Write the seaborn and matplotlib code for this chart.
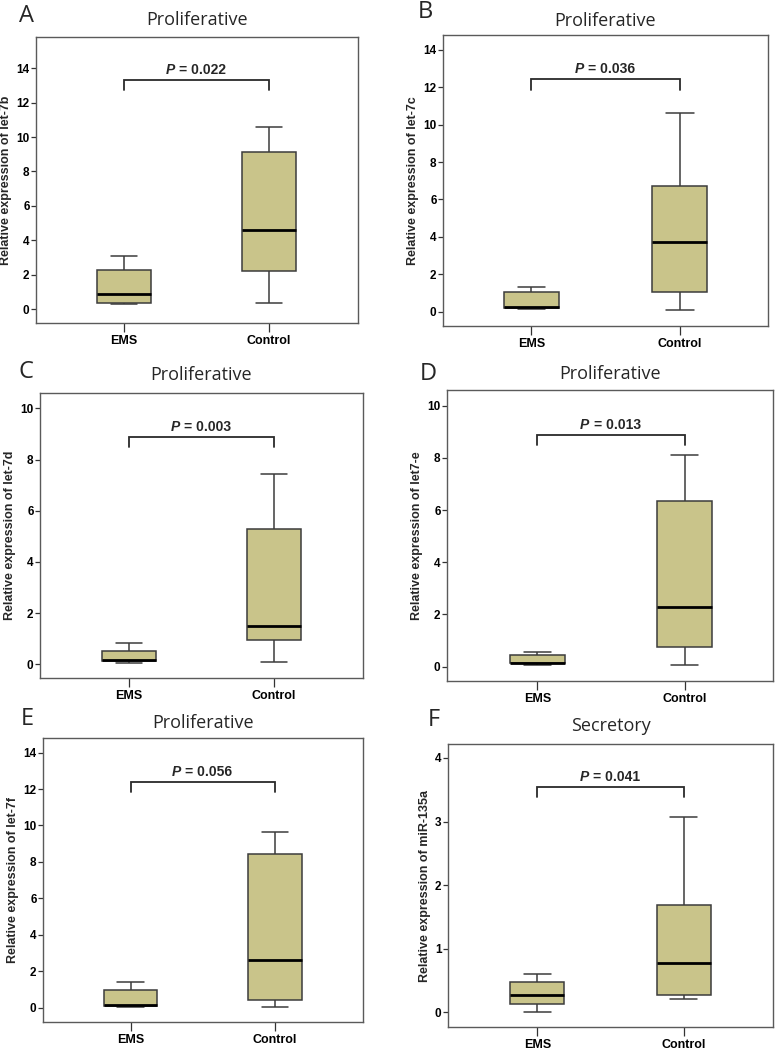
import numpy as np
import pandas as pd
import matplotlib
matplotlib.use("Agg")
import matplotlib.pyplot as plt
import seaborn as sns

sns.set_style("white")
plt.rcParams['font.family'] = ['Liberation Sans', 'DejaVu Sans']

# data (five number summaries: min, q1, median, q3, max)
groups = ["EMS", "Control"]
letters = ["A", "B", "C", "D", "E", "F"]
titles = ["Proliferative", "Proliferative", "Proliferative",
          "Proliferative", "Proliferative", "Secretory"]
genes = ["let-7b", "let-7c", "let-7d", "let7-e", "let-7f", "miR-135a"]
p_values = ["0.022", "0.036", "0.003", "0.013", "0.056", "0.041"]

ems_stats = [
    [0.30, 0.35, 0.87, 2.29, 3.10],
    [0.12, 0.18, 0.23, 1.03, 1.34],
    [0.05, 0.13, 0.18, 0.52, 0.81],
    [0.06, 0.13, 0.15, 0.45, 0.55],
    [0.03, 0.09, 0.16, 0.95, 1.41],
    [0.01, 0.13, 0.27, 0.47, 0.61],
]
control_stats = [
    [0.35, 2.19, 4.61, 9.14, 10.59],
    [0.09, 1.03, 3.73, 6.74, 10.61],
    [0.09, 0.94, 1.50, 5.28, 7.43],
    [0.06, 0.74, 2.27, 6.35, 8.11],
    [0.04, 0.44, 2.64, 8.43, 9.66],
    [0.21, 0.28, 0.77, 1.69, 3.07],
]

# significance brackets (bar height, leg end)
bracket_top = [13.32, 12.43, 8.87, 8.88, 12.41, 3.55]
bracket_leg = [12.74, 11.86, 8.47, 8.49, 11.86, 3.39]

y_ticks_max = [14, 14, 10, 10, 14, 4]
y_ticks_step = [2, 2, 2, 2, 2, 1]

# layout (pixels: left, right, top, bottom) and limits
W, H = 775, 1050
axes_px = [
    (36, 358, 37, 323),
    (443, 768, 35, 326),
    (40, 363, 393, 678),
    (447, 773, 390, 681),
    (43, 363, 738, 1022),
    (448, 773, 744, 1027),
]
ylims = [(-0.81, 15.82), (-0.77, 14.8), (-0.54, 10.6),
         (-0.55, 10.6), (-0.79, 14.8), (-0.23, 4.22)]
xlims = [(-0.607, 1.614), (-0.596, 1.593), (-0.614, 1.614),
         (-0.614, 1.6), (-0.607, 1.61), (-0.61, 1.608)]
letter_pos = [(19, 21.7), (418, 18.3), (18, 378), (420, 380), (21, 725), (428, 726)]
title_pad = [8.4, 6.7, 9.1, 7.7, 7.2, 9.1]

box_color = "#c9c48a"
edge_color = "#3c3c3c"

fig = plt.figure(figsize=(W / 100, H / 100), dpi=100)

for i in range(6):
    l, r, t, b = axes_px[i]
    ax = fig.add_axes([l / W, 1 - b / H, (r - l) / W, (b - t) / H])

    df = pd.DataFrame({
        "group": [groups[0]] * 5 + [groups[1]] * 5,
        "value": ems_stats[i] + control_stats[i],
    })
    sns.boxplot(data=df, x="group", y="value", order=groups, whis=(0, 100),
                width=0.37, color=box_color, saturation=1, linecolor=edge_color,
                linewidth=1.1, showfliers=False,
                medianprops=dict(color="black", linewidth=2), ax=ax)

    ax.set_xlim(*xlims[i])
    ax.set_ylim(*ylims[i])
    ax.set_yticks(np.arange(0, y_ticks_max[i] + 0.1, y_ticks_step[i]))
    ax.set_xlabel("")
    ax.set_ylabel("Relative expression of " + genes[i], fontsize=9,
                  fontweight="bold", labelpad=3)
    ax.tick_params(axis="y", direction="out", length=3.6, width=0.9,
                   colors="#333333", labelsize=8.5, pad=1, left=True)
    ax.tick_params(axis="x", direction="out", length=6.5, width=0.9,
                   colors="#333333", labelsize=9, pad=2, bottom=True)
    for lab in ax.get_xticklabels() + ax.get_yticklabels():
        lab.set_fontweight("bold")
        lab.set_color("black")
    for sp in ax.spines.values():
        sp.set_color("#5a5a5a")
        sp.set_linewidth(1)

    # bracket with p value
    ax.plot([0, 0, 1, 1], [bracket_leg[i], bracket_top[i], bracket_top[i], bracket_leg[i]],
            color="#2a2a2a", lw=1.3, solid_joinstyle="miter")
    ax.annotate("P", (0.5, bracket_top[i]), xytext=(-15.8, 4.3),
                textcoords="offset points", ha="right", va="baseline",
                fontsize=10, fontweight="bold", fontstyle="italic")
    ax.annotate("= " + p_values[i], (0.5, bracket_top[i]), xytext=(-12.6, 4.3),
                textcoords="offset points", ha="left", va="baseline",
                fontsize=10, fontweight="bold")

    ax.set_title(titles[i], fontsize=13, family="Open Sans", pad=title_pad[i])
    lx, ly = letter_pos[i]
    fig.text(lx / W, 1 - ly / H, letters[i], fontsize=17, family="Open Sans",
             ha="left", va="baseline")

fig.savefig("out.png", dpi=100)
